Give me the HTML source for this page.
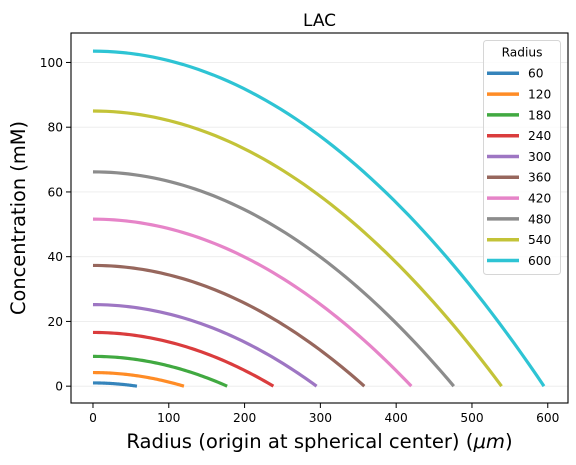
<!DOCTYPE html>
<html><head><meta charset="utf-8"><style>
html,body{margin:0;padding:0;background:#fff;}
svg{display:block;font-family:"DejaVu Sans","Liberation Sans",sans-serif;}
</style></head><body>
<svg id="chart" width="576" height="465" viewBox="0 0 576 465" xmlns="http://www.w3.org/2000/svg"></svg>
<script>
const radii = [60,120,180,240,300,360,420,480,540,600];
const centerConc = [1.0,4.2,9.2,16.6,25.2,37.3,51.6,66.2,85.0,103.5];
const endRadius = [58,120,177,238,295,358,420,476,539,595];
const colors = ["#1f77b4","#ff7f0e","#2ca02c","#d62728","#9467bd","#8c564b","#e377c2","#7f7f7f","#bcbd22","#17becf"];
const xTicks = [0,100,200,300,400,500,600];
const yTicks = [0,20,40,60,80,100];

const L=71,R=568,T=33,B=403;
const xMin=-29,xMax=626.7,yMin=-5.2,yMax=109.1;
const sx=v=>L+(v-xMin)/(xMax-xMin)*(R-L);
const sy=v=>B-(v-yMin)/(yMax-yMin)*(B-T);
const svg=document.getElementById('chart');
const NS='http://www.w3.org/2000/svg';
function mk(tag,attrs,parent){const e=document.createElementNS(NS,tag);for(const k in attrs)e.setAttribute(k,attrs[k]);(parent||svg).appendChild(e);return e;}

yTicks.forEach(v=>{
  const g=mk('line',{x1:L,x2:R,y1:sy(v),y2:sy(v),stroke:'#ebebeb','stroke-width':0.8});
  
  
});
radii.forEach((r,i)=>{
  let d='';
  const N=60;
  for(let k=0;k<=N;k++){
    const x=endRadius[i]*k/N;
    const y=centerConc[i]*(1-(x/endRadius[i])**2);
    d+=(k?'L':'M')+sx(x).toFixed(2)+','+sy(y).toFixed(2);
  }
  const p=mk('path',{d:d,fill:'none',stroke:colors[i],'stroke-width':3.2,'stroke-opacity':0.9});
  
  
});
const fr=mk('rect',{x:L,y:T,width:R-L,height:B-T,fill:'none',stroke:'#000','stroke-width':1.1});


xTicks.forEach(v=>{
  mk('line',{x1:sx(v),x2:sx(v),y1:B,y2:B+5,stroke:'#000','stroke-width':1});
  const t=mk('text',{x:sx(v),y:B+19,'text-anchor':'middle','font-size':12.2,fill:'#000'});
  t.textContent=v;
  
  
});
yTicks.forEach(v=>{
  mk('line',{x1:L-5,x2:L,y1:sy(v),y2:sy(v),stroke:'#000','stroke-width':1});
  const t=mk('text',{x:L-8,y:sy(v)+4.4,'text-anchor':'end','font-size':12.2,fill:'#000'});
  t.textContent=v;
  
  
});
const ti=mk('text',{x:(L+R)/2,y:26,'text-anchor':'middle','font-size':17,fill:'#000'});
ti.textContent='LAC';


const xl=mk('text',{x:(L+R)/2,y:448,'text-anchor':'middle','font-size':19.6,fill:'#000'});
xl.innerHTML='Radius (origin at spherical center) (<tspan font-style="italic">μm</tspan>)';


const yl=mk('text',{x:0,y:0,'text-anchor':'middle','font-size':19.4,fill:'#000',transform:'translate(25,'+((T+B)/2)+') rotate(-90)'});
yl.textContent='Concentration (mM)';


const lg=mk('rect',{x:483.5,y:40.5,width:77,height:234,rx:3,fill:'#fff','fill-opacity':0.8,stroke:'#d6d6d6','stroke-width':1});


const lt=mk('text',{x:522,y:56.5,'text-anchor':'middle','font-size':12.2,fill:'#000'});
lt.textContent='Radius';


radii.forEach((r,i)=>{
  const y=73.3+i*20.8;
  const ln=mk('line',{x1:487,x2:519,y1:y,y2:y,stroke:colors[i],'stroke-width':3.5,'stroke-opacity':0.9});
  
  
  const tx=mk('text',{x:528,y:y+4.4,'font-size':12.2,fill:'#000'});
  tx.textContent=r;
  
  
});
</script>
</body></html>
